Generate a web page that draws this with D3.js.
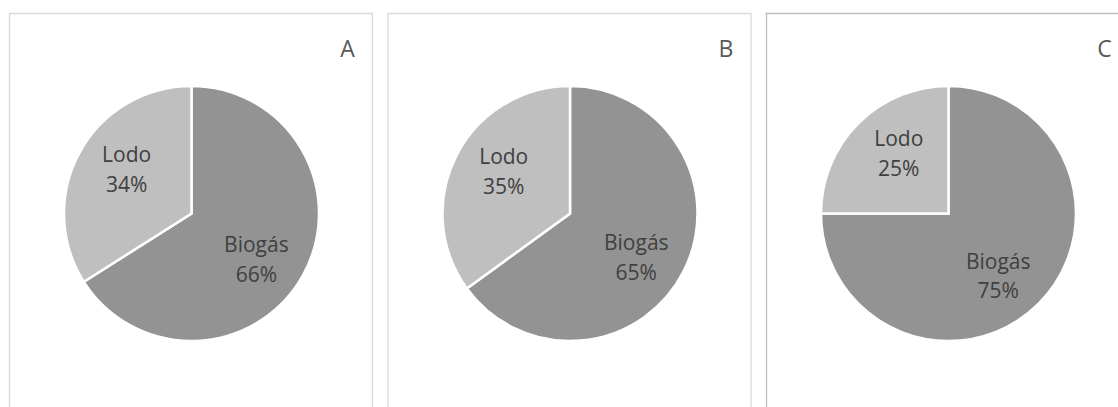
<!DOCTYPE html>
<html>
<head>
<meta charset="utf-8">
<script src="https://cdn.jsdelivr.net/npm/d3@7"></script>
<style>
  html, body { margin: 0; padding: 0; background: #ffffff; }
  svg { display: block; }
</style>
</head>
<body>
<svg id="chart" width="1118" height="407"></svg>
<script>
// ---- data ----
const panels = ["A", "B", "C"];
const categories = ["Biogás", "Lodo"];
const biogasValues = [66, 65, 75];
const lodoValues = [34, 35, 25];

// ---- layout ----
const W = 1118, H = 407;
const panelLeft0 = 9.5, panelStep = 378.5, panelWidth = 363, panelTop = 13.5;
const centerOffsetX = 182, centerY = 213.5, radius = 127.5;
const titleOffsetX = 156, titleBaseline = 57;
const labelRadius = 0.62 * radius;
const labelRotate = 6 * Math.PI / 180;
const colors = d3.scaleOrdinal().domain(categories).range(["#939393", "#bfbfbf"]);
const borderColors = ["#d9d9d9", "#d9d9d9", "#bdbdbd"];
const fontFamily = "'Open Sans', 'Noto Sans', sans-serif";

const svg = d3.select("#chart");
const xPanel = d3.scaleLinear().domain([0, 1]).range([panelLeft0, panelLeft0 + panelStep]);

const pie = d3.pie().sort(null).value(d => d.value);
const arc = d3.arc().innerRadius(0).outerRadius(radius);

panels.forEach((name, i) => {
  const left = xPanel(i);
  const g = svg.append("g");

  // panel border (bottom runs past image edge)
  g.append("path")
    .attr("d", `M${left},${H + 5}V${panelTop}H${left + panelWidth}V${H + 5}`)
    .attr("fill", "none")
    .attr("stroke", borderColors[i])
    .attr("stroke-width", 1.3);

  const cx = left + centerOffsetX;
  const data = [
    { cat: categories[0], value: biogasValues[i] },
    { cat: categories[1], value: lodoValues[i] }
  ];
  const arcs = pie(data);

  const pg = g.append("g").attr("transform", `translate(${cx},${centerY})`);
  pg.selectAll("path.slice")
    .data(arcs)
    .join("path")
    .attr("class", "slice")
    .attr("d", arc)
    .attr("fill", d => colors(d.data.cat))
    .attr("stroke", "#ffffff")
    .attr("stroke-width", 2.5)
    .attr("stroke-linejoin", "miter");

  const labels = pg.selectAll("text.lbl")
    .data(arcs)
    .join("text")
    .attr("class", "lbl")
    .attr("text-anchor", "middle")
    .attr("font-family", fontFamily)
    .attr("font-size", 21)
    .attr("fill", "#404040")
    .attr("transform", d => {
      const a = (d.startAngle + d.endAngle) / 2 + labelRotate;
      const x = labelRadius * Math.sin(a);
      const y = -labelRadius * Math.cos(a);
      return `translate(${x},${y})`;
    });
  labels.append("tspan").attr("x", 0).attr("dy", "-0.3em").text(d => d.data.cat);
  labels.append("tspan").attr("x", 0).attr("dy", "1.42em").text(d => d.data.value + "%");

  g.append("text")
    .attr("x", cx + titleOffsetX)
    .attr("y", titleBaseline)
    .attr("text-anchor", "middle")
    .attr("font-family", fontFamily)
    .attr("font-size", 23)
    .attr("fill", "#595959")
    .text(name);
});
</script>
</body>
</html>
